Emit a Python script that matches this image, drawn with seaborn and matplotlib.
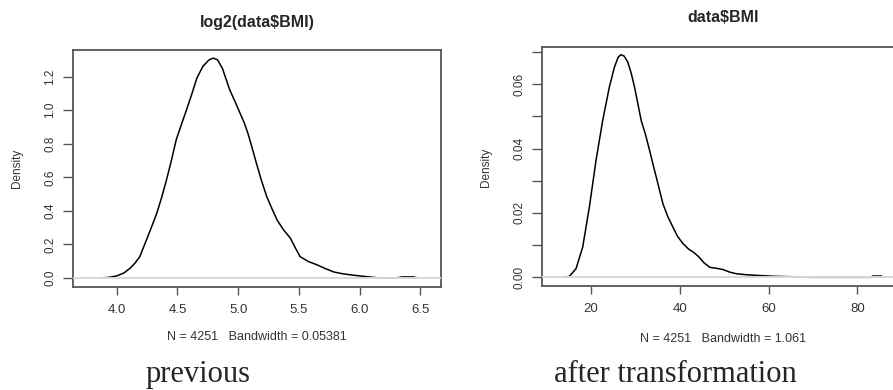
import numpy as np
import pandas as pd
import matplotlib
matplotlib.use("Agg")
import matplotlib.pyplot as plt
import seaborn as sns

# density of log2(BMI)
log_x = [3.86, 3.93, 4.00, 4.06, 4.11, 4.15, 4.19, 4.245, 4.29, 4.33, 4.37, 4.41, 4.45, 4.49,
         4.535, 4.575, 4.62, 4.66, 4.71, 4.76, 4.795, 4.83, 4.87, 4.93, 4.975, 5.015, 5.05,
         5.08, 5.115, 5.15, 5.19, 5.235, 5.28, 5.32, 5.37, 5.43, 5.47, 5.51, 5.58, 5.65,
         5.72, 5.79, 5.86, 5.93, 6.0, 6.08, 6.16, 6.30, 6.35, 6.44, 6.48]
log_d = [0.0, 0.003, 0.012, 0.03, 0.058, 0.088, 0.127, 0.227, 0.31, 0.386, 0.48, 0.585, 0.70, 0.824,
         0.92, 1.003, 1.10, 1.192, 1.262, 1.300, 1.311, 1.300, 1.250, 1.122, 1.05, 0.983, 0.925,
         0.863, 0.775, 0.684, 0.585, 0.485, 0.41, 0.346, 0.29, 0.237, 0.18, 0.127, 0.097, 0.078,
         0.055, 0.035, 0.025, 0.018, 0.012, 0.006, 0.0, 0.0, 0.006, 0.006, 0.0]

# density of raw BMI
bmi_x = [13.5, 15.2, 16.7, 18.2, 19.7, 21.2, 22.7, 24.2, 25.35, 26.2, 26.8, 27.5, 28.35,
         29.1, 29.85, 30.6, 31.35, 32.3, 33.24, 34.0, 34.74, 35.5, 36.24, 37.3, 38.5, 39.5,
         40.75, 42.0, 43.2, 44.3, 45.5, 46.8, 48.3, 49.8, 51.3, 52.8, 55.0, 57.3, 61.8, 65.0,
         69.3, 83.0, 83.4, 85.4, 85.8]
bmi_d = [0.0, 0.0003, 0.0027, 0.0094, 0.0219, 0.0364, 0.0488, 0.0592, 0.0654, 0.0685, 0.0692, 0.0688, 0.0669,
         0.0635, 0.0592, 0.054, 0.0488, 0.0445, 0.0395, 0.0352, 0.0312, 0.027, 0.0229, 0.019, 0.0156, 0.0128,
         0.0105, 0.0088, 0.0077, 0.0064, 0.0045, 0.0031, 0.0028, 0.0024, 0.0016, 0.0011, 0.0008, 0.0006, 0.0003, 0.0002,
         0.0, 0.0, 0.0004, 0.0004, 0.0]

titles = ["log2(data\\$BMI)", "data\\$BMI"]
subs = ["N = 4251   Bandwidth = 0.05381", "N = 4251   Bandwidth = 1.061"]
captions = ["previous", "after transformation"]

log_ticks = [4.0, 4.5, 5.0, 5.5, 6.0, 6.5]
log_yticks = [0.0, 0.2, 0.4, 0.6, 0.8, 1.0, 1.2]
bmi_ticks = [20, 40, 60, 80]
bmi_yticks = [0.0, 0.01, 0.02, 0.03, 0.04, 0.05, 0.06, 0.07]
bmi_ylabels = ["0.00", "", "0.02", "", "0.04", "", "0.06", ""]

sns.set_style("white")
plt.rcParams["font.family"] = ["Liberation Sans", "DejaVu Sans"]

W, H = 893, 390
fig = plt.figure(figsize=(W / 100, H / 100), dpi=100)
ax1 = fig.add_axes([73 / W, 1 - 287 / H, 368 / W, 237 / H])
ax2 = fig.add_axes([542 / W, 1 - 286 / H, 369 / W, 239 / H])

log_df = pd.DataFrame({"x": log_x, "density": log_d})
bmi_df = pd.DataFrame({"x": bmi_x, "density": bmi_d})

frame = "#555555"
for ax, df in [(ax1, log_df), (ax2, bmi_df)]:
    sns.lineplot(data=df, x="x", y="density", color="black", linewidth=1.1, ax=ax, zorder=2)
    ax.axhline(0, color="#d8d8d8", linewidth=1.4, zorder=3)
    ax.set_xlabel("")
    ax.set_ylabel("")
    for s in ax.spines.values():
        s.set_color(frame)
        s.set_linewidth(1.3)
    ax.tick_params(axis="both", direction="out", color=frame, width=1.0,
                   labelcolor="#333333", left=True, bottom=True)
    ax.tick_params(axis="x", length=6, pad=6, labelsize=9.5)
    ax.tick_params(axis="y", length=7, pad=5, labelsize=8.5)

ax1.set_xlim(3.64, 6.67)
ax1.set_ylim(-0.054, 1.359)
ax1.set_xticks(log_ticks)
ax1.set_xticklabels([f"{t:.1f}" for t in log_ticks])
ax1.set_yticks(log_yticks)
ax1.set_yticklabels([f"{t:.1f}" for t in log_yticks], rotation=90, va="center")

ax2.set_xlim(9.04, 92.06)
ax2.set_ylim(-0.0027, 0.0716)
ax2.set_xticks(bmi_ticks)
ax2.set_xticklabels([str(t) for t in bmi_ticks])
ax2.set_yticks(bmi_yticks)
ax2.set_yticklabels(bmi_ylabels, rotation=90, va="center")

# titles, sub labels, y labels
fig.text(257 / W, 1 - 22 / H, titles[0], ha="center", va="center",
         fontsize=11.5, fontweight="bold")
fig.text(723 / W, 1 - 17.5 / H, titles[1], ha="center", va="center",
         fontsize=11.5, fontweight="bold")
fig.text(257 / W, 1 - 337.5 / H, subs[0], ha="center", va="center",
         fontsize=9, color="#333333")
fig.text(723 / W, 1 - 339 / H, subs[1], ha="center", va="center",
         fontsize=9, color="#333333")
fig.text(17.5 / W, 1 - 168 / H, "Density", rotation=90, ha="center", va="center",
         fontsize=8.5, color="#333333")
fig.text(486 / W, 1 - 167 / H, "Density", rotation=90, ha="center", va="center",
         fontsize=8.5, color="#333333")

# captions under the panels
fig.text(198 / W, 1 - 382 / H, captions[0], ha="center", va="baseline",
         fontsize=22, family="Liberation Serif")
fig.text(675 / W, 1 - 382 / H, captions[1], ha="center", va="baseline",
         fontsize=22, family="Liberation Serif")

fig.savefig("out.png", dpi=100)
